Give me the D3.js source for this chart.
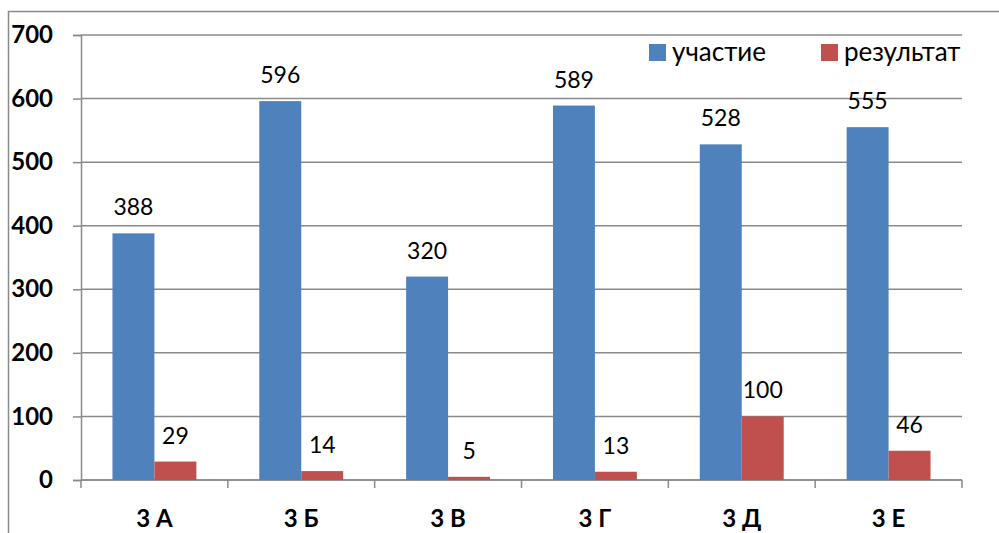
<!DOCTYPE html>
<html>
<head>
<meta charset="utf-8">
<script src="https://cdn.jsdelivr.net/npm/d3@7"></script>
<style>
    body { margin: 0; background: #fff; }
    svg { display: block; font-family: Lato, "Open Sans", sans-serif; }
</style>
</head>
<body>
<svg id="chart" width="999" height="533"></svg>
<script>

const CATEGORIES = ['3 А', '3 Б', '3 В', '3 Г', '3 Д', '3 Е'];
const SERIES = ['участие', 'результат'];
const PARTICIPATION = [388, 596, 320, 589, 528, 555];
const RESULT = [29, 14, 5, 13, 100, 46];
const Y_TICKS = [0, 100, 200, 300, 400, 500, 600, 700];
const COLORS = ['#4F81BD', '#C0504D'];

const PLOT = { left: 81, right: 962, top: 35, bottom: 480 };
const GRID_COLOR = '#8a8a8a';

function draw() {
    const svg = d3.select('#chart');

    // outer chart border
    svg.append('rect')
        .attr('x', 8.5).attr('y', 11.5)
        .attr('width', 1100).attr('height', 600)
        .style('fill', 'none')
        .style('stroke', GRID_COLOR)
        .style('stroke-width', 1.5);

    const y = d3.scaleLinear().domain([0, 700]).range([PLOT.bottom, PLOT.top]);
    const x = d3.scaleBand().domain(CATEGORIES).range([PLOT.left, PLOT.right]);
    const inner = d3.scaleBand().domain(SERIES).range([0, x.bandwidth()])
        .paddingInner(0).paddingOuter(0.75);

    // gridlines
    svg.append('g')
        .selectAll('line')
        .data(Y_TICKS)
        .enter()
        .append('line')
            .attr('x1', PLOT.left).attr('x2', PLOT.right)
            .attr('y1', d => y(d)).attr('y2', d => y(d))
            .style('stroke', GRID_COLOR)
            .style('stroke-width', 1.5);

    // y axis
    const yAxis = svg.append('g')
        .attr('transform', `translate(${PLOT.left},0)`)
        .call(d3.axisLeft(y).tickValues(Y_TICKS).tickSize(8).tickPadding(20));
    yAxis.select('.domain').style('stroke', GRID_COLOR).style('stroke-width', 1.5);
    yAxis.selectAll('.tick line').style('stroke', GRID_COLOR).style('stroke-width', 1.5);
    yAxis.selectAll('.tick text')
        .style('font-family', 'Lato, sans-serif')
        .style('font-size', '24px')
        .style('font-weight', 'bold')
        .style('fill', '#000');

    // x axis
    const xAxis = svg.append('g')
        .attr('transform', `translate(0,${PLOT.bottom})`);
    xAxis.append('line')
        .attr('x1', PLOT.left).attr('x2', PLOT.right)
        .style('stroke', GRID_COLOR).style('stroke-width', 1.5);
    const bounds = CATEGORIES.map(c => x(c)).concat([PLOT.right]);
    xAxis.selectAll('line.tk')
        .data(bounds)
        .enter()
        .append('line')
            .attr('class', 'tk')
            .attr('x1', d => d).attr('x2', d => d)
            .attr('y1', 0).attr('y2', 8)
            .style('stroke', GRID_COLOR).style('stroke-width', 1.5);
    xAxis.selectAll('text')
        .data(CATEGORIES)
        .enter()
        .append('text')
            .attr('x', d => x(d) + x.bandwidth() / 2)
            .attr('y', 47)
            .attr('text-anchor', 'middle')
            .style('font-size', '24px')
            .style('font-weight', 'bold')
            .text(d => d);

    // bars
    const rows = CATEGORIES.map((c, i) => ({ cat: c, values: [PARTICIPATION[i], RESULT[i]] }));
    const groups = svg.append('g')
        .selectAll('g')
        .data(rows)
        .enter()
        .append('g')
            .attr('transform', d => `translate(${x(d.cat)},0)`);

    groups.selectAll('rect')
        .data(d => d.values.map((v, k) => ({ s: SERIES[k], v: v, k: k })))
        .enter()
        .append('rect')
            .attr('x', d => inner(d.s))
            .attr('width', inner.bandwidth())
            .attr('y', d => y(d.v))
            .attr('height', d => y(0) - y(d.v))
            .style('fill', d => COLORS[d.k]);

    groups.selectAll('text')
        .data(d => d.values.map((v, k) => ({ s: SERIES[k], v: v })))
        .enter()
        .append('text')
            .attr('x', d => inner(d.s) + inner.bandwidth() / 2)
            .attr('y', d => y(d.v) - 18)
            .attr('text-anchor', 'middle')
            .style('font-size', '23px')
            .text(d => d.v);

    // legend
    const legendX = [649, 821];
    const legend = svg.append('g')
        .selectAll('g')
        .data(SERIES)
        .enter()
        .append('g')
            .attr('transform', (d, i) => `translate(${legendX[i]},44)`);
    legend.append('rect')
        .attr('width', 17).attr('height', 17)
        .style('fill', (d, i) => COLORS[i]);
    legend.append('text')
        .attr('x', 23).attr('y', 17)
        .style('font-size', '26px')
        .text(d => d);
}

document.addEventListener('DOMContentLoaded', draw);
</script>
</body>
</html>
